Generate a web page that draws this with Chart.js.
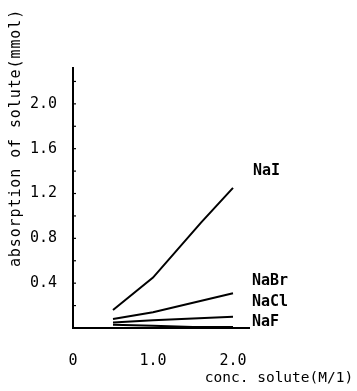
<!DOCTYPE html>
<html>
<head>
<meta charset="utf-8">
<style>
  html, body { margin: 0; padding: 0; background: #fff; }
  #wrap { width: 357px; height: 391px; }
</style>
<script src="https://cdn.jsdelivr.net/npm/chart.js@4"></script>
</head>
<body>
<div id="wrap"><canvas id="c" width="357" height="391"></canvas></div>
<script>
// ---- data ----
const seriesNames = ['NaI', 'NaBr', 'NaCl', 'NaF'];
const xNaI  = [0.5, 1.0, 1.6, 2.0];
const yNaI  = [0.16, 0.45, 0.94, 1.25];
const xNaBr = [0.5, 1.0, 2.0];
const yNaBr = [0.08, 0.14, 0.31];
const xNaCl = [0.5, 1.0, 2.0];
const yNaCl = [0.05, 0.07, 0.10];
const xNaF  = [0.5, 1.0, 1.5, 2.0];
const yNaF  = [0.03, 0.02, 0.01, 0.01];
const xTickValues = [0, 1, 2];
const xTickLabels = ['0', '1.0', '2.0'];
const yTickValues = [0.4, 0.8, 1.2, 1.6, 2.0];
const yTickLabels = ['0.4', '0.8', '1.2', '1.6', '2.0'];
const xTitle = 'conc. solute(M/1)';
const yTitle = 'absorption of solute(mmol)';

const FONT = '"DejaVu Sans Mono", "Liberation Mono", monospace';
const pts = (xs, ys) => xs.map((x, i) => ({ x: x, y: ys[i] }));
const seriesData = [pts(xNaI, yNaI), pts(xNaBr, yNaBr), pts(xNaCl, yNaCl), pts(xNaF, yNaF)];
// label offsets (pixels) relative to each series' last point
const labelOffsets = [[20, -17], [19, -12], [19, -15], [19, -5]];

const decorations = {
  id: 'decorations',
  afterDraw(chart) {
    const ctx = chart.ctx;
    const xs = chart.scales.x, ys = chart.scales.y;
    ctx.save();
    ctx.fillStyle = '#000';
    ctx.strokeStyle = '#000';
    // inward minor ticks on y axis
    ctx.lineWidth = 1.2;
    for (let v = 0.2; v < ys.max; v += 0.2) {
      const py = ys.getPixelForValue(v);
      ctx.beginPath();
      ctx.moveTo(xs.left, py);
      ctx.lineTo(xs.left + 3, py);
      ctx.stroke();
    }
    // series labels
    ctx.font = 'bold 15px ' + FONT;
    ctx.textAlign = 'left';
    ctx.textBaseline = 'middle';
    seriesData.forEach((d, i) => {
      const last = d[d.length - 1];
      const px = xs.getPixelForValue(last.x) + labelOffsets[i][0];
      const py = ys.getPixelForValue(last.y) + labelOffsets[i][1];
      ctx.fillText(seriesNames[i], px, py);
    });
    // x title
    ctx.font = '14.5px ' + FONT;
    ctx.textAlign = 'center';
    ctx.fillText(xTitle, 279, 378);
    // y title
    ctx.save();
    ctx.translate(16, 138);
    ctx.rotate(-Math.PI / 2);
    ctx.font = '15px ' + FONT;
    try { ctx.letterSpacing = '0.9px'; } catch (e) {}
    ctx.textAlign = 'center';
    ctx.fillText(yTitle, 0, 0);
    ctx.restore();
    ctx.restore();
  }
};

new Chart(document.getElementById('c'), {
  type: 'line',
  data: {
    datasets: seriesData.map((d, i) => ({
      label: seriesNames[i],
      data: d,
      borderColor: '#000',
      borderWidth: 2,
      pointRadius: 0,
      tension: 0,
      fill: false
    }))
  },
  options: {
    responsive: false,
    animation: false,
    layout: { padding: { left: 23, right: 108, top: 68, bottom: 23 } },
    plugins: { legend: { display: false }, tooltip: { enabled: false }, title: { display: false } },
    scales: {
      x: {
        type: 'linear',
        min: 0, max: 2.2,
        afterFit(s) { s.height = 40; },
        afterBuildTicks(s) { s.ticks = xTickValues.map(v => ({ value: v })); },
        border: { display: true, color: '#000', width: 2 },
        grid: { display: false },
        ticks: {
          color: '#000', padding: 16, maxRotation: 0, autoSkip: false,
          font: { family: FONT, size: 15 },
          callback: (v) => { const i = xTickValues.indexOf(v); return i >= 0 ? xTickLabels[i] : ''; }
        }
      },
      y: {
        type: 'linear',
        min: 0, max: 2.32,
        afterFit(s) { s.width = 50; },
        afterBuildTicks(s) { s.ticks = yTickValues.map(v => ({ value: v })); },
        border: { display: true, color: '#000', width: 2 },
        grid: { display: false },
        ticks: {
          color: '#000', padding: 8, autoSkip: false,
          font: { family: FONT, size: 15 },
          callback: (v) => { const i = yTickValues.findIndex(t => Math.abs(t - v) < 1e-6); return i >= 0 ? yTickLabels[i] : ''; }
        }
      }
    }
  },
  plugins: [decorations]
});
</script>
</body>
</html>
